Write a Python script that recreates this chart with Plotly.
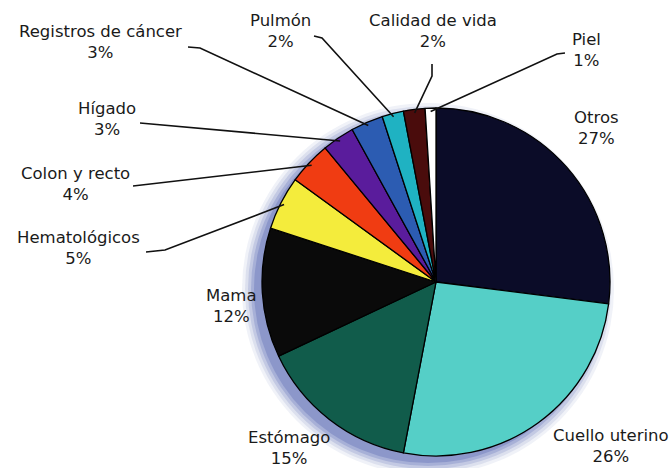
import math
import plotly.graph_objects as go

# ---- data ----
labels = ["Otros", "Cuello uterino", "Estómago", "Mama", "Hematológicos",
          "Colon y recto", "Hígado", "Registros de cáncer", "Pulmón",
          "Calidad de vida", "Piel"]
values = [27, 26, 15, 12, 5, 4, 3, 3, 2, 2, 1]
colors = ["#0b0c28", "#55cfc7", "#115c4b", "#0a0a0a", "#f4ec3c",
          "#f03c12", "#5a1c9c", "#2c5cb2", "#1fb2c2", "#4a0c0c", "#ffffff"]

# label block centres (pixels) and leader-line start/elbow points (pixels)
label_pos = [(596, 128), (611, 446), (289, 448), (231, 306), (78, 248),
             (75, 184), (107, 119), (100, 42), (280, 31), (433, 31), (586, 50)]
leaders = {
    4: [(146, 252), (165, 250)],
    5: [(133, 186)],
    6: [(140, 123)],
    7: [(188, 47), (200, 48)],
    8: [(314, 36), (322, 38)],
    9: [(432, 64), (432, 76)],
    10: [(565, 53), (557, 54)],
}

W, H = 671, 468
CX, CY, R = 436, 282, 174


def px(x, y):
    return x / W, 1 - y / H


fig = go.Figure()
fig.add_trace(go.Pie(
    labels=labels, values=values, sort=False, direction="clockwise",
    rotation=0, textinfo="none", showlegend=False,
    marker=dict(colors=colors, line=dict(color="#000000", width=1.3)),
    domain=dict(x=[(CX - R) / W, (CX + R) / W], y=[1 - (CY + R) / H, 1 - (CY - R) / H]),
))

shapes = []
# soft blue shadow behind pie (offset to lower-left)
for rr, al in [(186, 0.07), (183, 0.10), (180, 0.14), (177, 0.18), (174, 0.22)]:
    x0, y0 = px(CX - 8 - rr, CY + 7 + rr)
    x1, y1 = px(CX - 8 + rr, CY + 7 - rr)
    shapes.append(dict(type="circle", xref="paper", yref="paper",
                       x0=x0, y0=y0, x1=x1, y1=y1, layer="below",
                       fillcolor=f"rgba(45,65,160,{al})", line=dict(width=0)))

# leader lines from label to slice edge
total = sum(values)
cum = 0
mids = []
for v in values:
    mids.append((cum + v / 2) / total * 2 * math.pi)
    cum += v
for i, pts in leaders.items():
    a = mids[i]
    ex = CX + R * 0.98 * math.sin(a)
    ey = CY - R * 0.98 * math.cos(a)
    allpts = pts + [(ex, ey)]
    path = ""
    for k, (x, y) in enumerate(allpts):
        X, Y = px(x, y)
        path += ("M" if k == 0 else "L") + f"{X:.5f},{Y:.5f} "
    shapes.append(dict(type="path", xref="paper", yref="paper", path=path,
                       line=dict(color="#111111", width=1.6), layer="above"))

annotations = []
for lab, v, (x, y) in zip(labels, values, label_pos):
    X, Y = px(x, y)
    annotations.append(dict(text=f"{lab}<br>{v}%", x=X, y=Y, xref="paper", yref="paper",
                            showarrow=False, xanchor="center", yanchor="middle",
                            font=dict(family="DejaVu Sans", size=16.5, color="#1a1a1a")))

fig.update_layout(
    width=W, height=H, margin=dict(l=0, r=0, t=0, b=0),
    paper_bgcolor="white", plot_bgcolor="white",
    shapes=shapes, annotations=annotations,
)
fig.write_html("out.html", config={"displayModeBar": False},
               post_script="document.body.style.margin='0';document.body.style.overflow='hidden';")
